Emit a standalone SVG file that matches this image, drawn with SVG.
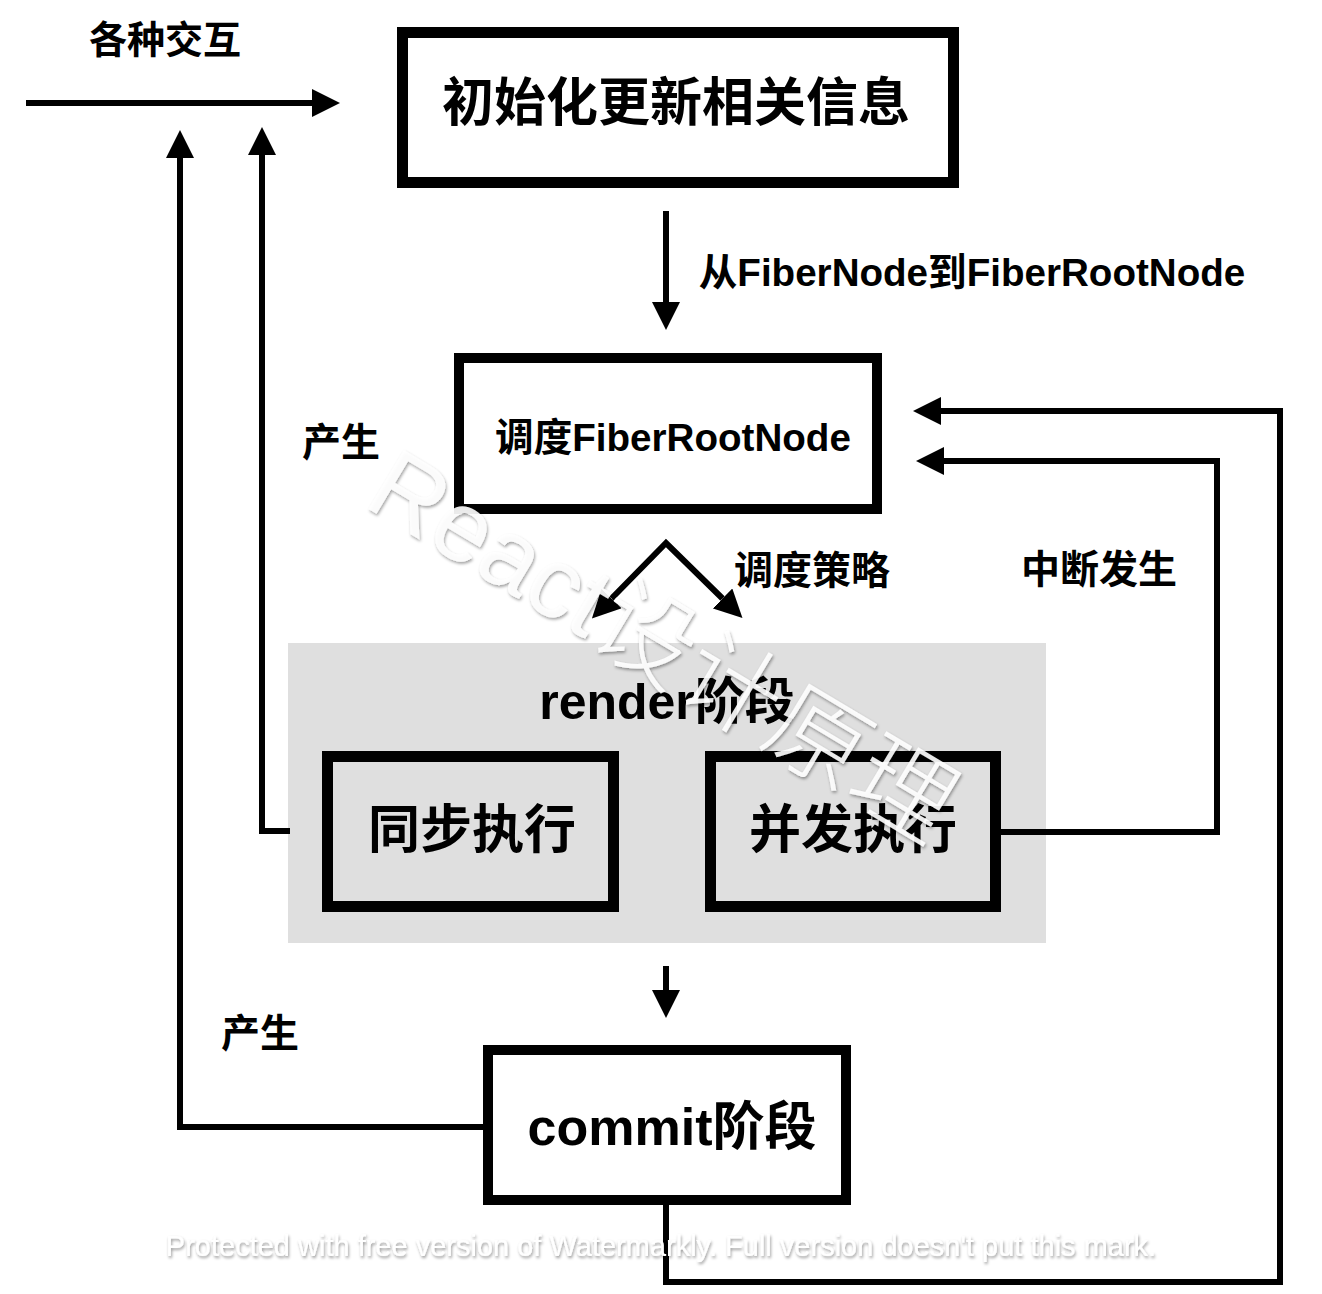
<svg xmlns="http://www.w3.org/2000/svg" width="1322" height="1294" viewBox="0 0 1322 1294">
<style>
.box{fill:#fff;stroke:#000;stroke-width:11}
.inbox{fill:#dfdfdf;stroke:#000;stroke-width:11}
.lbl{font-family:"Liberation Sans","Noto Sans CJK SC",sans-serif;font-weight:bold;fill:#000;text-anchor:middle;dominant-baseline:central}
.conn{fill:none;stroke:#000;stroke-width:6;stroke-linejoin:miter}
.wm{font-family:"Liberation Sans","Noto Sans CJK SC",sans-serif;fill:#fff;text-anchor:middle;dominant-baseline:central}
</style>
<defs>
<marker id="ah" markerUnits="userSpaceOnUse" markerWidth="28" markerHeight="28" refX="0" refY="14" orient="auto-start-reverse" viewBox="0 0 28 28">
<path d="M0,0 L28,14 L0,28 z" fill="#000"/>
</marker>
<filter id="sh" x="-10%" y="-30%" width="120%" height="160%">
<feDropShadow dx="1" dy="2" stdDeviation="1.5" flood-color="#000" flood-opacity="0.4"/>
</filter>
</defs>
<rect width="1322" height="1294" fill="#fff"/>
<g id="render-stage">
<rect x="288" y="643" width="758" height="300" fill="#dfdfdf"/>
<text class="lbl" x="667" y="702" font-size="50">render阶段</text>
</g>
<g id="connectors">
<path class="conn" d="M26,103 H312" marker-end="url(#ah)"/>
<path class="conn" d="M484,1127 H180 V158" marker-end="url(#ah)"/>
<path class="conn" d="M290,831 H262 V155" marker-end="url(#ah)"/>
<path class="conn" d="M666,211 V302" marker-end="url(#ah)"/>
<path class="conn" d="M611.5,598.5 L666,543 L722.5,598.5" marker-start="url(#ah)" marker-end="url(#ah)"/>
<path class="conn" d="M1001,832 H1217 V461 H944" marker-end="url(#ah)"/>
<path class="conn" d="M666,1205 V1282 H1280 V411 H941" marker-end="url(#ah)"/>
<path class="conn" d="M666,966 V990" marker-end="url(#ah)"/>
</g>
<g id="label-interactions"><text class="lbl" x="165" y="40" font-size="38">各种交互</text></g>
<g id="node-init">
<rect class="box" x="402.5" y="32.5" width="551" height="150"/>
<text class="lbl" x="676" y="103" font-size="52">初始化更新相关信息</text>
</g>
<g id="label-fiber"><text class="lbl" x="972" y="272" font-size="38.6">从FiberNode到FiberRootNode</text></g>
<g id="node-schedule">
<rect class="box" x="459" y="358" width="418" height="151" style="stroke-width:10"/>
<text class="lbl" x="673" y="437" font-size="38.6">调度FiberRootNode</text>
</g>
<g id="label-produce1"><text class="lbl" x="341" y="442" font-size="39">产生</text></g>
<g id="label-strategy"><text class="lbl" x="812" y="570" font-size="39">调度策略</text></g>
<g id="label-interrupt"><text class="lbl" x="1099" y="569" font-size="39">中断发生</text></g>
<g id="node-sync">
<rect class="inbox" x="327.5" y="756.5" width="286" height="150"/>
<text class="lbl" x="472" y="830" font-size="52">同步执行</text>
</g>
<g id="node-concurrent">
<rect class="inbox" x="710.5" y="756.5" width="285" height="150"/>
<text class="lbl" x="853" y="830" font-size="52">并发执行</text>
</g>
<g id="label-produce2"><text class="lbl" x="260" y="1033" font-size="39">产生</text></g>
<g id="node-commit">
<rect class="box" x="488" y="1050" width="358" height="150" style="stroke-width:10"/>
<text class="lbl" x="672" y="1127" font-size="52">commit阶段</text>
</g>
<g id="watermarks" filter="url(#sh)">
<text class="wm" x="0" y="0" font-size="100" font-weight="300" opacity="0.9" transform="translate(663,645) rotate(31)">React设计原理</text>
<text class="wm" x="661" y="1246" font-size="29">Protected with free version of Watermarkly. Full version doesn't put this mark.</text>
</g>
</svg>
